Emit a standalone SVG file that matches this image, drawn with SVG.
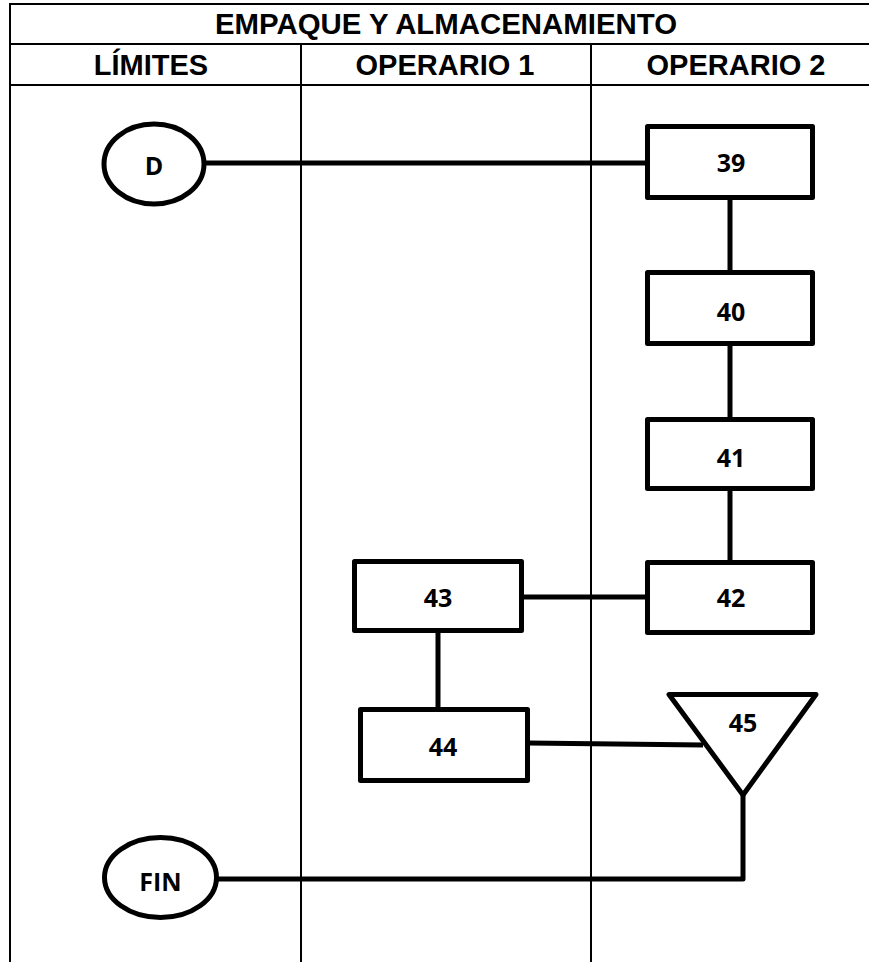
<svg xmlns="http://www.w3.org/2000/svg" width="869" height="962" viewBox="0 0 869 962">
<style>
.grid{stroke:#000;stroke-width:2;fill:none}
.hdr{font-family:"Liberation Sans",Arial,sans-serif;font-weight:bold;font-size:29px;text-anchor:middle;fill:#000}
.shape{fill:#fff;stroke:#000;stroke-width:5;stroke-linejoin:round}
.lbl{font-family:"Open Sans","Noto Sans",sans-serif;font-weight:bold;font-size:25px;text-anchor:middle;fill:#000}
.conn{stroke:#000;stroke-width:5;fill:none;stroke-linejoin:round}
</style>
<rect width="869" height="962" fill="#fff"/>
<g id="table">
<line class="grid" x1="10" y1="4" x2="869" y2="4"/>
<line class="grid" x1="10" y1="44" x2="869" y2="44"/>
<line class="grid" x1="10" y1="85" x2="869" y2="85"/>
<line class="grid" x1="10" y1="3" x2="10" y2="962"/>
<line class="grid" x1="301" y1="44" x2="301" y2="962"/>
<line class="grid" x1="591" y1="44" x2="591" y2="962"/>
<text class="hdr" x="446" y="34" textLength="462" lengthAdjust="spacingAndGlyphs">EMPAQUE Y ALMACENAMIENTO</text>
<text class="hdr" x="151" y="75">LÍMITES</text>
<text class="hdr" x="445" y="75">OPERARIO 1</text>
<text class="hdr" x="736" y="75">OPERARIO 2</text>
</g>
<g id="connectors">
<line class="conn" x1="205" y1="163" x2="646" y2="163"/>
<line class="conn" x1="730" y1="198" x2="730" y2="272"/>
<line class="conn" x1="730" y1="343" x2="730" y2="419"/>
<line class="conn" x1="730" y1="488" x2="730" y2="562"/>
<line class="conn" x1="522" y1="597" x2="647" y2="597"/>
<line class="conn" x1="438" y1="631" x2="438" y2="709"/>
<line class="conn" x1="528" y1="743" x2="703" y2="745"/>
<polyline class="conn" points="743,793 743,879 217,879"/>
</g>
<g id="nD">
<ellipse class="shape" cx="154" cy="164" rx="50" ry="40"/>
<text class="lbl" x="154" y="175">D</text>
</g>
<g id="n39">
<rect class="shape" x="647.5" y="126.5" width="165" height="71"/>
<text class="lbl" x="731" y="172">39</text>
</g>
<g id="n40">
<rect class="shape" x="647.5" y="272.5" width="165" height="71"/>
<text class="lbl" x="731" y="321">40</text>
</g>
<g id="n41">
<rect class="shape" x="647.5" y="419.5" width="165" height="69"/>
<text class="lbl" x="731" y="467">41</text>
</g>
<g id="n42">
<rect class="shape" x="647.5" y="562.5" width="165" height="70"/>
<text class="lbl" x="731" y="607">42</text>
</g>
<g id="n43">
<rect class="shape" x="354.5" y="561.5" width="167" height="69"/>
<text class="lbl" x="438" y="607">43</text>
</g>
<g id="n44">
<rect class="shape" x="360.5" y="709.5" width="167" height="71"/>
<text class="lbl" x="443" y="756">44</text>
</g>
<g id="n45">
<polygon class="shape" points="669,694.5 816,694.5 743,795"/>
<text class="lbl" x="743" y="732">45</text>
</g>
<g id="nFIN">
<ellipse class="shape" cx="160.5" cy="877.5" rx="56" ry="40"/>
<text class="lbl" x="160.5" y="891">FIN</text>
</g>
</svg>
